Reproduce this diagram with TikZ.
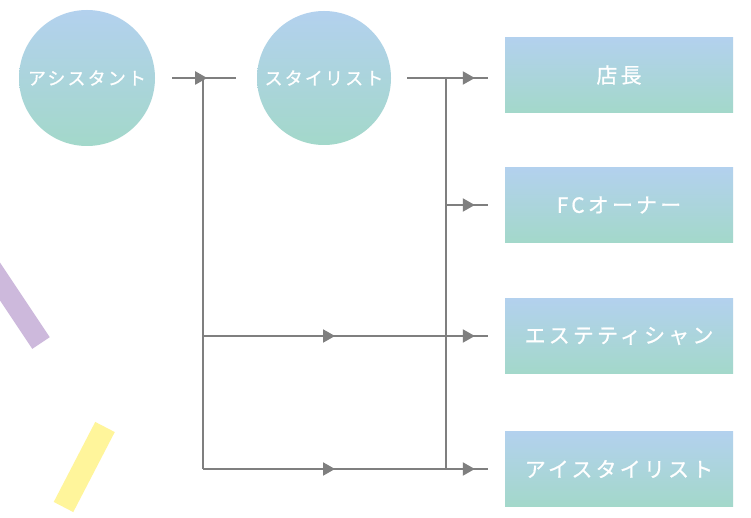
\documentclass[tikz,border=0pt]{standalone}
\usepackage{fontspec}
\newfontfamily\jpfont{Noto Sans CJK JP}[LetterSpace=12,FakeBold=0.7]
\newfontfamily\jpwide{Noto Sans CJK JP}[LetterSpace=15,FakeBold=0.7]
\usetikzlibrary{arrows.meta,decorations.markings,calc}

\definecolor{skyblue}{HTML}{B3D1EE}
\definecolor{mint}{HTML}{A3D8CA}
\definecolor{lilac}{HTML}{CDB9DC}
\definecolor{lemon}{HTML}{FFF59B}
\definecolor{wire}{HTML}{7F7F7F}

\tikzset{Pointer/.tip={Triangle[length=12pt,width=13pt]}}

\begin{document}
\begin{tikzpicture}[x=1pt,y=-1pt,font=\jpfont,
  bubble/.style={circle, minimum size=136pt, inner sep=0pt, top color=skyblue, bottom color=mint,
    text=white, font=\jpfont\fontsize{18}{21}\selectfont},
  post/.style={rectangle, minimum width=228pt, minimum height=75pt, inner sep=0pt, top color=skyblue,
    bottom color=mint, text=white, font=\jpwide\fontsize{21}{24}\selectfont},
  link/.style={draw=wire, line width=2pt},
  marker/.style={postaction={decorate, decoration={markings, mark=at position #1 with {\arrow[wire]{Pointer}}}}},
]

\fill[white] (0,0) rectangle (751,518);
\useasboundingbox (0,0) rectangle (751,518);
\clip (0,0) rectangle (751,518);

% stripes
\draw[lilac, line width=21pt] (-19,253) -- (41,343);
\draw[lemon, line width=22pt] (105,427) -- (63.5,507);

\node[bubble] (asst) at (87,78) {アシスタント};
\node[bubble, minimum size=134pt] (styl) at (324,78) {スタイリスト};

\node[post] (mgr) at (619,75) {店長};
\node[post] (owner) at (619,205) {FCオーナー};
\node[post] (esth) at (619,336) {エステティシャン};
\node[post] (eyel) at (619,469) {アイスタイリスト};

\coordinate (jl) at (203,78);
\coordinate (jr) at (446,78);

\draw[link, marker=35pt] ($(asst.east)+(17,0)$) -- ($(styl.west)-(21,0)$);
\draw[link, marker=-13pt] ($(styl.east)+(16,0)$) -- ($(styl.east -| mgr.west)-(17,0)$);

\draw[link] (jl) -- (jl |- eyel.west);
\draw[link] (jr) -- (jr |- eyel.west);

\draw[link, marker=-13pt] (jr |- owner.west) -- ($(owner.west)-(17,0)$);
\draw[link, marker=132pt, marker=-13pt] (jl |- esth.west) -- ($(esth.west)-(17,0)$);
\draw[link, marker=132pt, marker=-13pt] (jl |- eyel.west) -- ($(eyel.west)-(17,0)$);

\end{tikzpicture}
\end{document}
